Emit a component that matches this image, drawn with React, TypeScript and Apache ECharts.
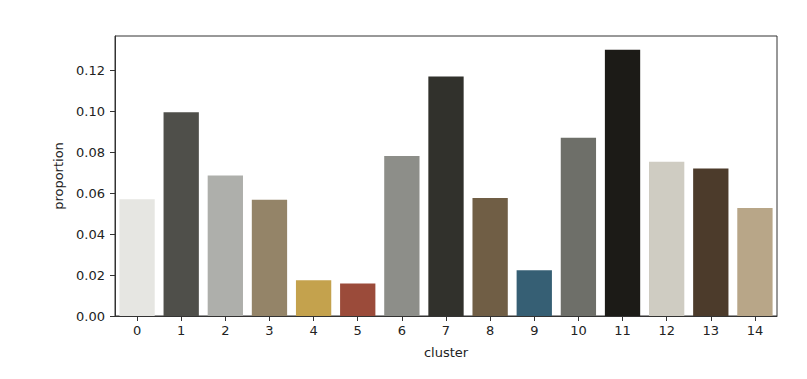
import React, { useEffect, useRef } from "react";
import * as echarts from "echarts";

const categories = ["0", "1", "2", "3", "4", "5", "6", "7", "8", "9", "10", "11", "12", "13", "14"];
const proportions = [0.0569, 0.0994, 0.0685, 0.0567, 0.0174, 0.0159, 0.078, 0.1169, 0.0576, 0.0223, 0.087, 0.1299, 0.0753, 0.072, 0.0527];
const barColors = [
  "#e6e6e2", "#4f4f4a", "#aeafab", "#948468", "#c4a24d", "#9b4b3a", "#8d8e89", "#31312c",
  "#705e45", "#365f74", "#6e6f69", "#1c1b17", "#cfccc2", "#4c3b2b", "#b8a688",
];
const yTicks = [0, 0.02, 0.04, 0.06, 0.08, 0.1, 0.12];

export default function App() {
  const ref = useRef<HTMLDivElement>(null);
  useEffect(() => {
    if (!ref.current) return;
    const chart = echarts.init(ref.current, undefined, { renderer: "svg" });
    const font = "DejaVu Sans";
    chart.setOption({
      animation: false,
      backgroundColor: "#ffffff",
      grid: {
        left: 115,
        right: 30,
        top: 36,
        bottom: 63,
        show: true,
        borderColor: "#333333",
        borderWidth: 1,
        containLabel: false,
      },
      xAxis: {
        type: "category",
        data: categories,
        boundaryGap: true,
        name: "cluster",
        nameLocation: "middle",
        nameGap: 30,
        nameTextStyle: { fontFamily: font, fontSize: 13, color: "#222" },
        axisLine: { show: true, lineStyle: { color: "#333333", width: 1 } },
        axisTick: { show: true, alignWithLabel: true, length: 5, lineStyle: { color: "#333333" } },
        axisLabel: { fontFamily: font, fontSize: 13, color: "#222", margin: 8 },
        splitLine: { show: false },
      },
      yAxis: {
        type: "value",
        min: 0,
        max: 0.1366,
        name: "proportion",
        nameLocation: "middle",
        nameGap: 48,
        nameTextStyle: { fontFamily: font, fontSize: 13, color: "#222" },
        axisLine: { show: true, lineStyle: { color: "#333333", width: 1 } },
        axisTick: { show: true, length: 5, lineStyle: { color: "#333333" }, customValues: yTicks },
        axisLabel: {
          fontFamily: font,
          fontSize: 13,
          color: "#222",
          margin: 10,
          customValues: yTicks,
          formatter: (v: number) => v.toFixed(2),
        },
        splitLine: { show: false },
      },
      series: [
        {
          type: "bar",
          barWidth: "80%",
          data: proportions.map((v, i) => ({ value: v, itemStyle: { color: barColors[i] } })),
        },
      ],
    });
    return () => chart.dispose();
  }, []);
  return (
    <div
      ref={ref}
      style={{ position: "fixed", left: 0, top: 0, width: 807, height: 379, background: "#fff" }}
    />
  );
}
